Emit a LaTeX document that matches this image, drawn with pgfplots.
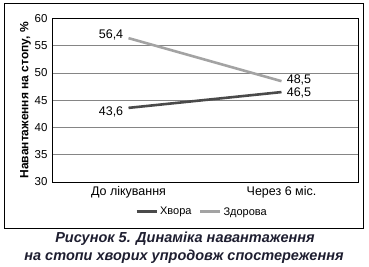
\documentclass[border=0pt]{standalone}
\usepackage{pgfplots}
\pgfplotsset{compat=1.18}
\usepackage{fontspec}
\setmainfont{Liberation Sans}
\definecolor{darkline}{HTML}{4A4A4A}
\definecolor{lightline}{HTML}{A3A3A3}
\definecolor{gridc}{HTML}{858585}
\definecolor{capc}{HTML}{1E1E30}
\begin{document}
\begin{tikzpicture}[x=1pt,y=1pt]
\useasboundingbox (0,0) rectangle (369,-267);
\draw[line width=1pt] (4,-4) rectangle (363,-228);
\begin{axis}[
  at={(52pt,-182pt)}, anchor=south west,
  scale only axis, width=306pt, height=163.5pt,
  xmin=-0.5, xmax=1.5, ymin=30, ymax=60,
  xtick={0,1}, xticklabels={До лікування, Через 6 міс.},
  ytick={30,35,...,60},
  major tick length=0pt,
  ymajorgrids, grid style={gridc, line width=0.8pt},
  axis line style={black, line width=0.9pt},
  /pgf/number format/assume math mode=true,
  yticklabel style={font=\fontsize{11.5}{13}\selectfont, xshift=-1pt},
  xticklabel style={font=\fontsize{12.5}{14}\selectfont, yshift=-1pt},
  ylabel={\textbf{Навантаження на стопу, \%}},
  ylabel style={font=\fontsize{12}{14}\selectfont, yshift=-3pt},
  legend columns=2,
  legend style={draw=none, at={(0.49,-0.183)}, anchor=center,
    font=\fontsize{11}{12}\selectfont,
    /tikz/every even column/.append style={column sep=5pt}},
  legend image code/.code={\draw[#1, line width=3pt] (0pt,0pt) -- (20pt,0pt);},
  nodes near coords,
  point meta=explicit symbolic,
  visualization depends on={value \thisrow{anc}\as\myanc},
  visualization depends on={value \thisrow{dy}\as\mydy},
  every node near coord/.append style={anchor=\myanc, yshift=\mydy pt, font=\fontsize{12.5}{14}\selectfont, black, inner sep=4pt},
]
\addplot[darkline, line width=2.6pt] table[meta=lab] {
x y lab anc dy
0 43.6 43,6 east -4
1 46.5 46,5 west -1
};
\addlegendentry{Хвора}
\addplot[lightline, line width=2.6pt] table[meta=lab] {
x y lab anc dy
0 56.4 56,4 east 3
1 48.5 48,5 west 1
};
\addlegendentry{Здорова}
\end{axis}
\node[capc, font=\fontsize{14.5}{16}\selectfont\bfseries\itshape] at (185,-239) {Рисунок 5. Динаміка навантаження};
\node[capc, font=\fontsize{14.5}{16}\selectfont\bfseries\itshape] at (184,-257) {на стопи хворих упродовж спостереження};
\end{tikzpicture}
\end{document}
